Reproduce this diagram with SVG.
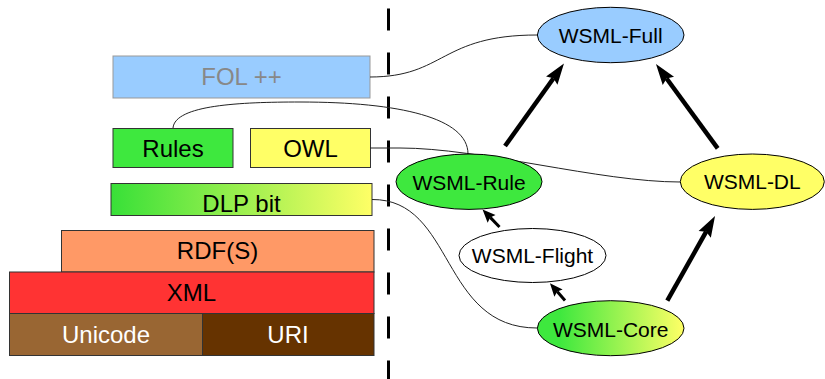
<svg xmlns="http://www.w3.org/2000/svg" width="825" height="379" viewBox="0 0 825 379">
  <style>
    .box { stroke: #333; stroke-width: 1; }
    .lbl { font-family: "Liberation Sans", Arial, sans-serif; font-size: 24px; text-anchor: middle; fill: #000; }
    .elbl { font-family: "Liberation Sans", Arial, sans-serif; font-size: 21px; text-anchor: middle; fill: #000; }
    .node { stroke: #000; stroke-width: 1; }
    .link { fill: none; stroke: #222; stroke-width: 1; }
    .big { fill: none; stroke: #000; stroke-width: 4.5; marker-end: url(#headBig); }
    .small { fill: none; stroke: #000; stroke-width: 3; marker-end: url(#headSmall); }
  </style>
  <defs>
    <linearGradient id="greenYellow" x1="0" y1="0" x2="1" y2="0">
      <stop offset="0" stop-color="#38e038"/>
      <stop offset="1" stop-color="#ffff66"/>
    </linearGradient>
    <linearGradient id="coreFill" x1="0" y1="0" x2="1" y2="0">
      <stop offset="0.15" stop-color="#3ee83e"/>
      <stop offset="1" stop-color="#ffff66"/>
    </linearGradient>
    <marker id="headBig" markerUnits="userSpaceOnUse" markerWidth="30" markerHeight="30" refX="0" refY="0" orient="auto" overflow="visible">
      <path d="M18,0 L-3,-7 L0,0 L-3,7 Z" fill="#000"/>
    </marker>
    <marker id="headSmall" markerUnits="userSpaceOnUse" markerWidth="20" markerHeight="20" refX="0" refY="0" orient="auto" overflow="visible">
      <path d="M11,0 L-2,-5.5 L0,0 L-2,5.5 Z" fill="#000"/>
    </marker>
  </defs>

  <rect width="825" height="379" fill="#fff"/>

  <!-- layer stack -->
  <g id="fol">
    <rect x="113" y="56" width="257" height="42" fill="#99ccff" stroke="#999" stroke-width="1"/>
    <text class="lbl" x="241.5" y="85" style="fill:#888">FOL ++</text>
  </g>
  <g id="rules">
    <rect class="box" x="113" y="128.5" width="120" height="39" fill="#3ee83e"/>
    <text class="lbl" x="173" y="156.5">Rules</text>
  </g>
  <g id="owl">
    <rect class="box" x="250.5" y="128.5" width="120" height="39" fill="#ffff66"/>
    <text class="lbl" x="310.5" y="156.5">OWL</text>
  </g>
  <g id="dlp">
    <rect class="box" x="111" y="183.5" width="261" height="32" fill="url(#greenYellow)"/>
    <text class="lbl" x="241.5" y="212">DLP bit</text>
  </g>
  <g id="rdfs">
    <rect class="box" x="61.5" y="230.5" width="312.5" height="41.5" fill="#ff9966"/>
    <text class="lbl" x="217.5" y="259">RDF(S)</text>
  </g>
  <g id="xml">
    <rect class="box" x="9.5" y="272" width="364.5" height="41.5" fill="#ff3333"/>
    <text class="lbl" x="191.5" y="300.5">XML</text>
  </g>
  <g id="unicode">
    <rect class="box" x="9.5" y="313.5" width="193" height="42" fill="#996633"/>
    <text class="lbl" x="106" y="343" style="fill:#fff">Unicode</text>
  </g>
  <g id="uri">
    <rect class="box" x="202.5" y="313.5" width="171.5" height="42" fill="#663300"/>
    <text class="lbl" x="288" y="343" style="fill:#fff">URI</text>
  </g>

  <!-- divider -->
  <line x1="388.5" y1="8.5" x2="388.5" y2="379" stroke="#000" stroke-width="3" stroke-dasharray="22 22"/>

  <!-- links between layers and variants, and containment arrows -->
  <g id="connectors">
    <path class="link" d="M370,77 C445,77 440,35 537,35"/>
    <path class="link" d="M173,128 C175,105 240,102 300,102 C400,102 468,118 468,154"/>
    <path class="link" d="M370,148 L400,148 C480,148 600,182 680,182"/>
    <path class="link" d="M372,199.5 C455,199 440,328 537,328"/>
    <path class="big" d="M505,146 L553.5,78.2"/>
    <path class="big" d="M717.7,148.3 L666.6,78.5"/>
    <path class="big" d="M667.3,300.7 L706.2,231.7"/>
    <path class="small" d="M499.5,227 L490.2,217.4"/>
    <path class="small" d="M565,300.5 L557.2,291.6"/>
  </g>

  <!-- language variants -->
  <g id="wsml-full">
    <ellipse class="node" cx="610.7" cy="35" rx="73.3" ry="27.7" fill="#99ccff"/>
    <text class="elbl" x="610.7" y="43">WSML-Full</text>
  </g>
  <g id="wsml-rule">
    <ellipse class="node" cx="469" cy="181.7" rx="73" ry="27.7" fill="#3ee83e"/>
    <text class="elbl" x="469" y="189.5">WSML-Rule</text>
  </g>
  <g id="wsml-dl">
    <ellipse class="node" cx="752.3" cy="181.7" rx="72" ry="27.7" fill="#ffff66"/>
    <text class="elbl" x="752.3" y="188.5">WSML-DL</text>
  </g>
  <g id="wsml-flight">
    <ellipse class="node" cx="532.5" cy="255.5" rx="73.5" ry="27" fill="#fff"/>
    <text class="elbl" x="532.5" y="263.3">WSML-Flight</text>
  </g>
  <g id="wsml-core">
    <ellipse class="node" cx="610.7" cy="328.2" rx="73.3" ry="27.5" fill="url(#coreFill)"/>
    <text class="elbl" x="610.7" y="336.5">WSML-Core</text>
  </g>
</svg>
